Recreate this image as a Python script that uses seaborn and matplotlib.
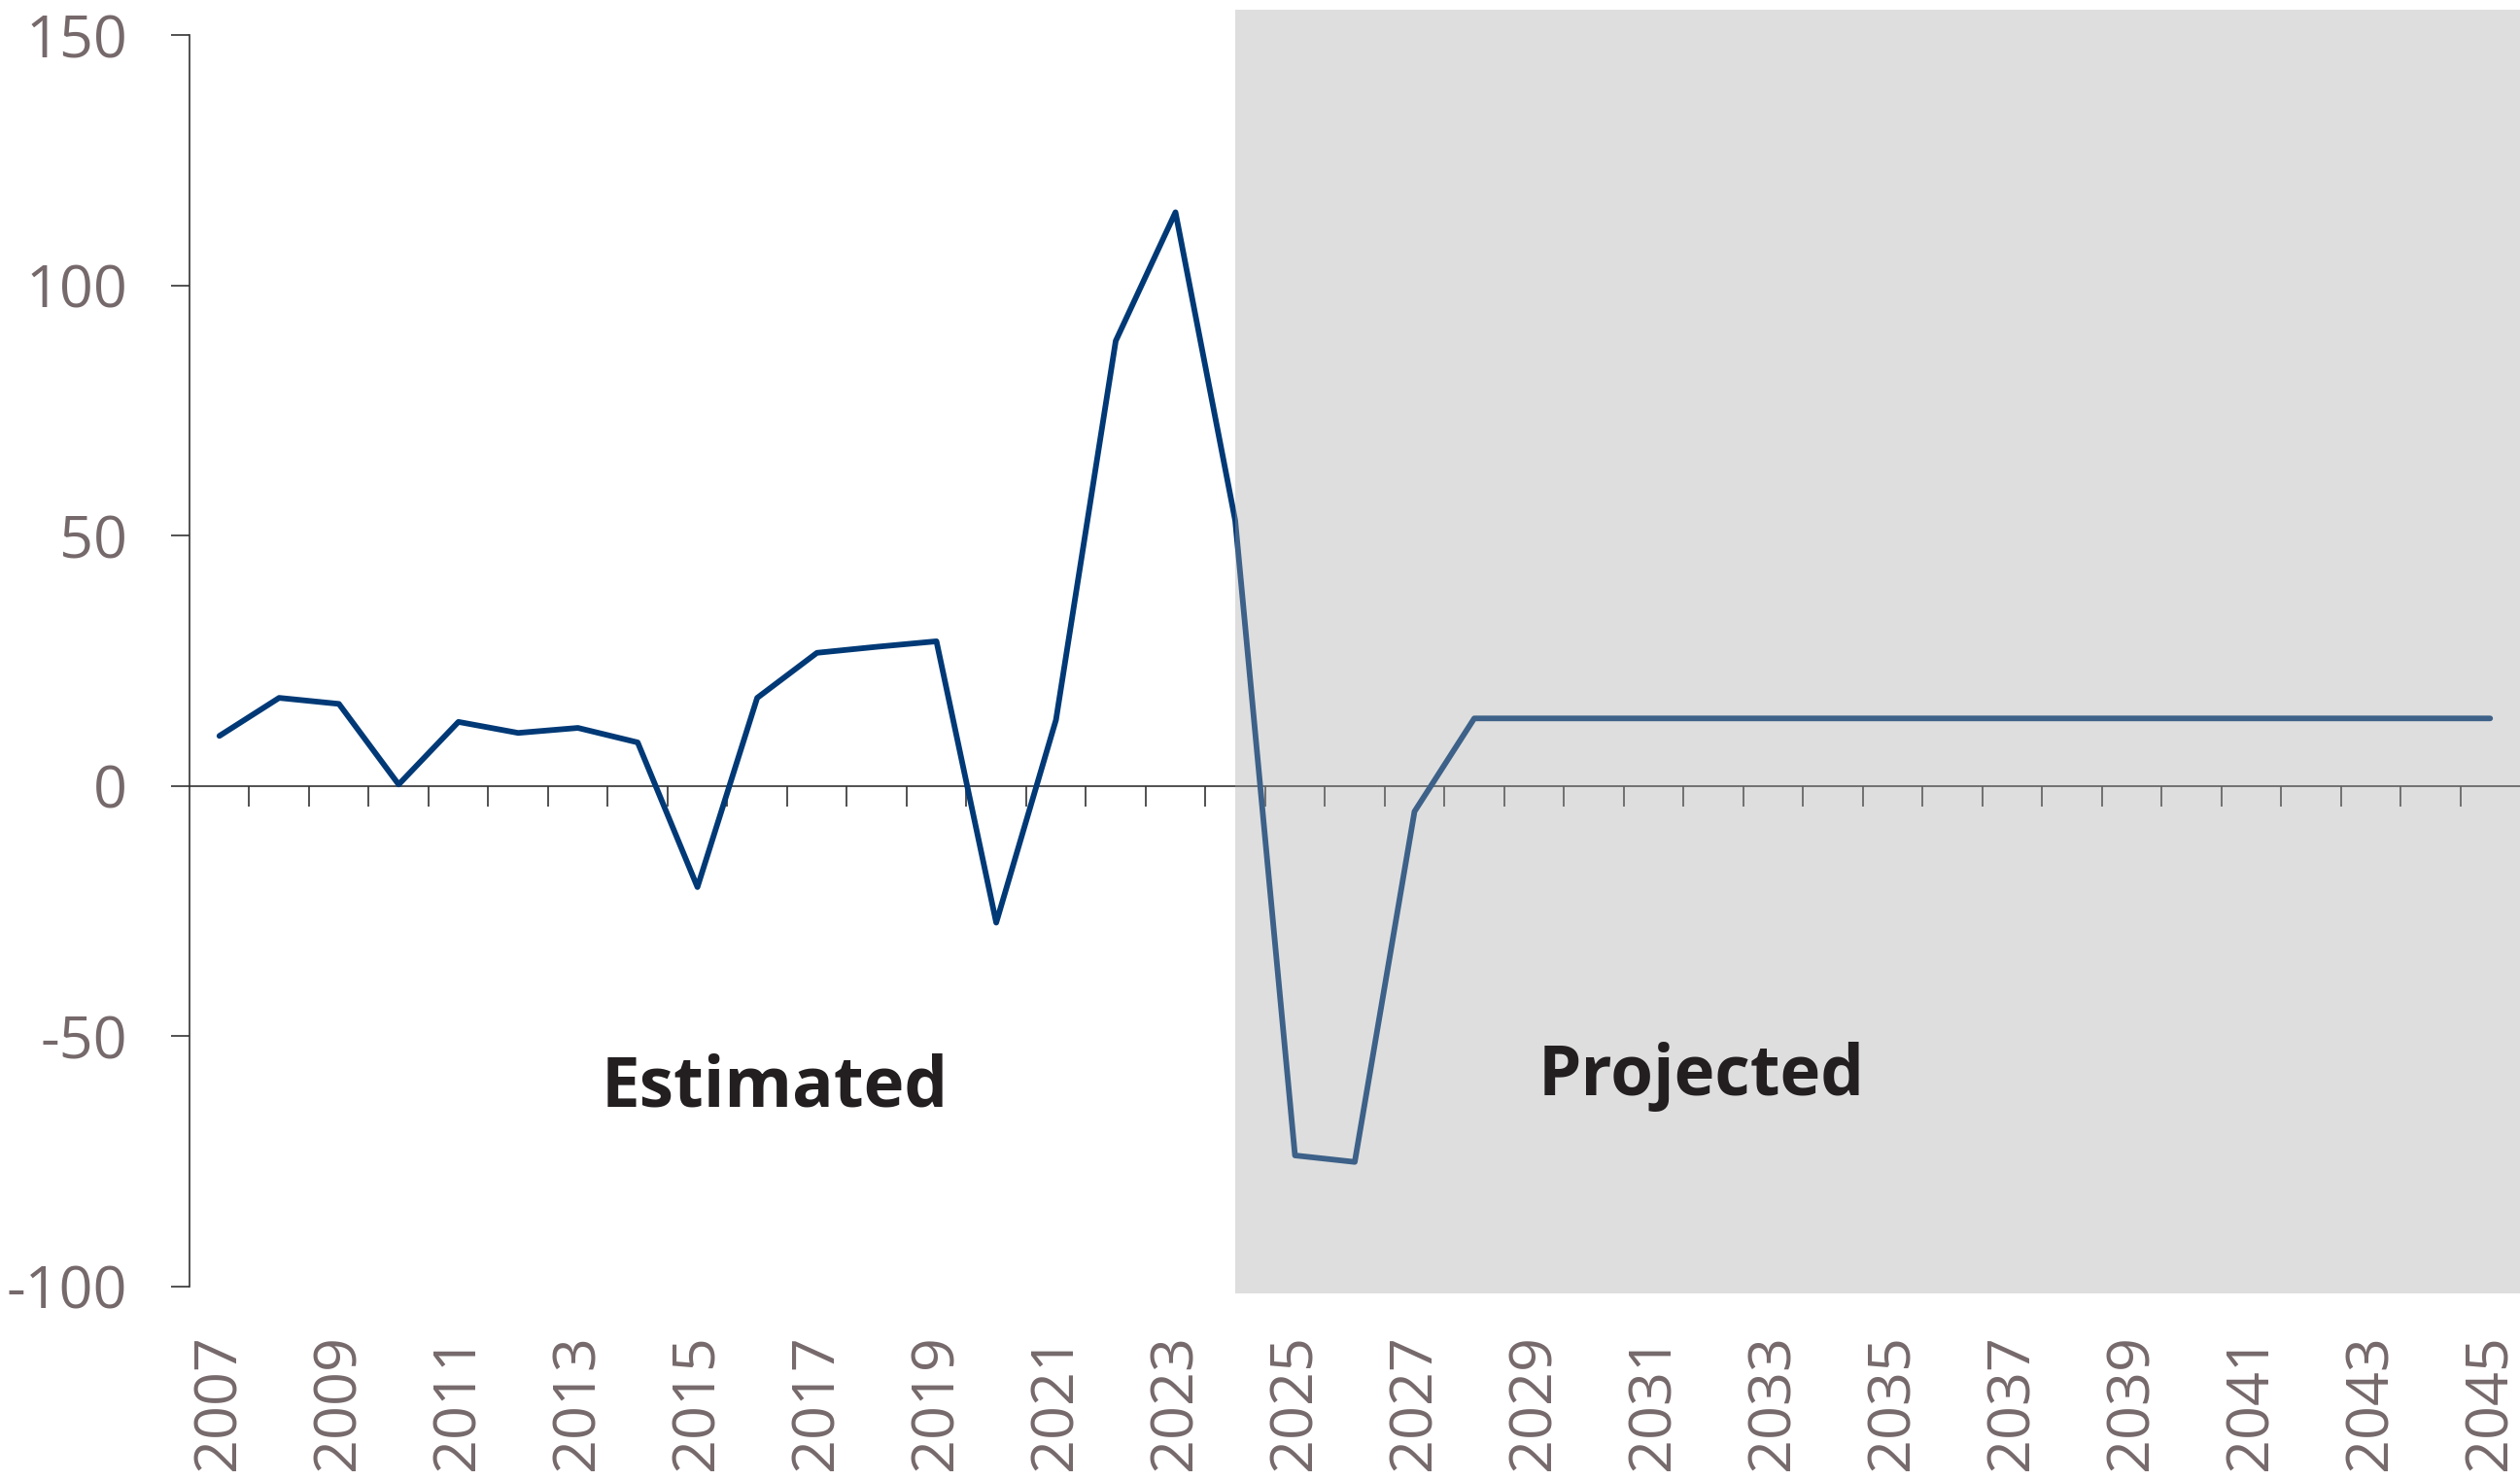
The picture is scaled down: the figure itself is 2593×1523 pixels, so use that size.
import numpy as np
import pandas as pd
import matplotlib.pyplot as plt
import seaborn as sns

# data
years = list(range(2007, 2046))
estimated = [10.0, 17.6, 16.4, 0.3, 12.8, 10.6, 11.6, 8.7, -20.2, 17.6,
             26.6, 27.8, 28.9, -27.3, 13.2, 88.9, 114.6, 53.0]          # 2007-2024
projected = [-73.8, -75.1, -5.1, 13.5, 13.5, 13.5, 13.5, 13.5, 13.5, 13.5,
             13.5, 13.5, 13.5, 13.5, 13.5, 13.5, 13.5, 13.5, 13.5, 13.5, 13.5]  # 2025-2045
yticks = [-100, -50, 0, 50, 100, 150]
ytick_labels = ['-100', '-50', '0', '50', '100', '150']
xtick_years = years[::2]
proj_start = 2024

df = pd.DataFrame({'year': years, 'value': estimated + projected})

sns.set_style('white')
plt.rcParams['font.family'] = ['Open Sans', 'DejaVu Sans']
plt.rcParams['axes.unicode_minus'] = False

fig = plt.figure(figsize=(25.93, 15.23), dpi=100)
ax = fig.add_axes([195/2593, 0.1256, 1 - 195/2593, 0.8744])

sns.lineplot(data=df, x='year', y='value', ax=ax, color='#003976',
             linewidth=4.2, zorder=2)
ax.lines[0].set_solid_joinstyle('round')
ax.lines[0].set_solid_capstyle('round')

# translucent grey overlay for the projection period
ax.fill_between([proj_start, 2045.5], -101.4, 155, color='#a8a8a8',
                alpha=0.37, linewidth=0, zorder=5)

ax.set_xlim(2006.5, 2045.5)
ax.set_ylim(-101.5, 157)

label_col = '#76696b'
ax.set_yticks(yticks)
ax.set_yticklabels(ytick_labels)
ax.set_xticks(xtick_years)
ax.set_xticklabels([str(y) for y in xtick_years], rotation=90)
ax.tick_params(axis='y', direction='out', length=14, width=1.2, color='#333333',
               labelsize=44, labelcolor=label_col, pad=32, left=True)
ax.tick_params(axis='x', length=0, labelsize=44, labelcolor=label_col, pad=30)

for s in ['top', 'right', 'bottom']:
    ax.spines[s].set_visible(False)
ax.spines['left'].set_bounds(-100, 150)
ax.spines['left'].set_color('#333333')
ax.spines['left'].set_linewidth(1.2)
ax.set_xlabel('')
ax.set_ylabel('')

# zero line with tick marks between categories
sec = ax.secondary_xaxis(0, transform=ax.transData)
sec.set_xticks(np.arange(2007.5, 2045, 1))
sec.set_xticklabels([])
sec.tick_params(direction='out', length=15, width=1.2, color='#333333')
sec.spines['bottom'].set_color('#333333')
sec.spines['bottom'].set_linewidth(1.2)

ax.text(2016.3, -60.3, 'Estimated', fontsize=51, fontweight='bold',
        color='#231f20', ha='center', va='center', zorder=6)
ax.text(2031.8, -58, 'Projected', fontsize=51, fontweight='bold',
        color='#231f20', ha='center', va='center', zorder=6)

fig.savefig('out.png', dpi=100)
